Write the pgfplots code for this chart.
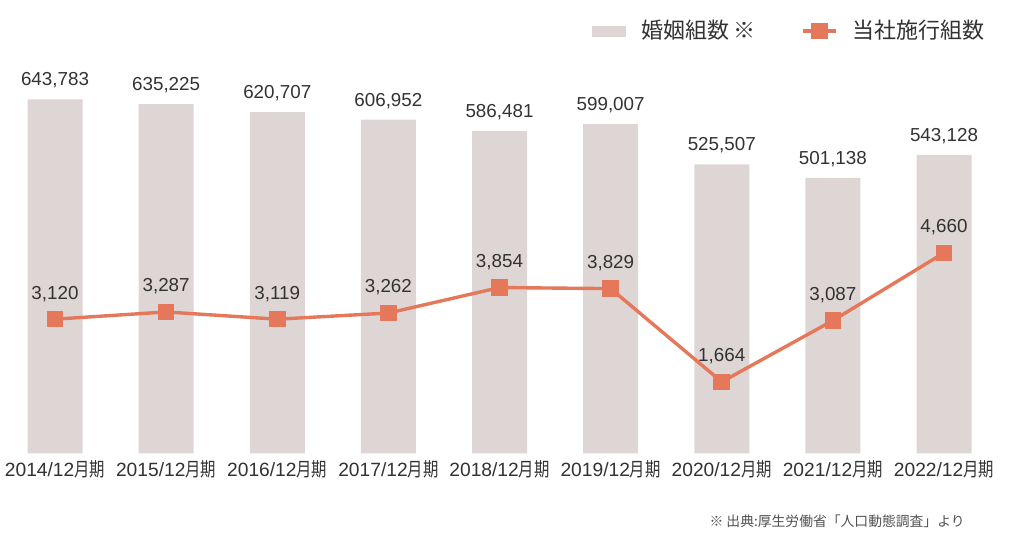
\documentclass[border=0pt]{standalone}
\usepackage{pgfplots}
\pgfplotsset{compat=1.18}
\usepackage{fontspec}
\setmainfont{Liberation Sans}
\newfontfamily\cjk{Noto Sans CJK JP}
\newfontfamily\cjkn{Noto Sans CJK JP}[FakeStretch=0.8]
\definecolor{barc}{RGB}{221,214,212}
\definecolor{linec}{RGB}{229,119,90}
\definecolor{txt}{RGB}{50,50,50}
\begin{document}
\begin{tikzpicture}
% 1px = 0.5pt
\pgfplotsset{
  base/.style={scale only axis, width=512pt, height=226.75pt,
    xmin=-0.495, xmax=8.72, ymin=0, clip=false,
    axis line style={draw=none}, major tick length=0pt, ytick=\empty,
    /pgf/number format/assume math mode=true,
    /pgf/number format/fixed, /pgf/number format/precision=0,
    /pgf/number format/1000 sep={,}},
  lineleg/.style={legend image code/.code={\draw[mark repeat=2, mark phase=2, ##1] plot coordinates {(0pt,0pt) (8.25pt,0pt) (16.5pt,0pt)};}},
  barleg/.style={legend image code/.code={\fill[barc] (0pt,-2.5pt) rectangle (16.5pt,2.5pt);}},
}
\begin{axis}[base, name=a, ymax=824545,
  ybar, bar width=27.5pt,
  xtick={0,...,8},
  xticklabels={2014/12{\cjkn 月期},2015/12{\cjkn 月期},2016/12{\cjkn 月期},2017/12{\cjkn 月期},2018/12{\cjkn 月期},2019/12{\cjkn 月期},2020/12{\cjkn 月期},2021/12{\cjkn 月期},2022/12{\cjkn 月期}},
  xticklabel style={anchor=base, yshift=-11.75pt, font=\fontsize{9.6pt}{10pt}\selectfont, text=txt, inner sep=0pt},
  nodes near coords,
  every node near coord/.append style={anchor=center, yshift=9.5pt, font=\fontsize{9.4pt}{10pt}\selectfont, text=txt, inner sep=0pt},
]
\addplot[fill=barc, draw=none] coordinates {
  (0,643783) (1,635225) (2,620707) (3,606952) (4,586481)
  (5,599007) (6,525507) (7,501138) (8,543128)};
\node[anchor=east, font=\cjk\fontsize{6.9pt}{7pt}\selectfont, text=txt!85, inner sep=0pt]
  at ([yshift=-34pt]rel axis cs:0.9424,0) {※ 出典:厚生労働省「人口動態調査」より};
\end{axis}
\begin{axis}[base, hide axis, ymax=10532,
  legend columns=2,
  legend style={draw=none, fill=none, inner sep=0pt, at={(rel axis cs:0.578,0.9316)}, anchor=west,
    font=\cjk\fontsize{11pt}{12pt}\selectfont, text=txt,
    nodes={inner sep=0pt},
    /tikz/every odd column/.append style={column sep=7.5pt},
    /tikz/every even column/.append style={column sep=22.5pt}},
]
\addlegendimage{barleg}
\addlegendentry{婚姻組数 ※}
\addplot[linec, line width=1.7pt, mark=square*, mark size=3.3pt, mark options={solid},
  nodes near coords, lineleg,
  every node near coord/.append style={anchor=center, yshift=12.75pt, font=\fontsize{9.4pt}{10pt}\selectfont, text=txt, inner sep=0pt},
] coordinates {
  (0,3120) (1,3287) (2,3119) (3,3262) (4,3854)
  (5,3829) (6,1664) (7,3087) (8,4660)};
\addlegendentry{当社施行組数}
\end{axis}
\pgfresetboundingbox
\path ([yshift=-48.75pt]a.south west) rectangle (a.north east);
\end{tikzpicture}
\end{document}
